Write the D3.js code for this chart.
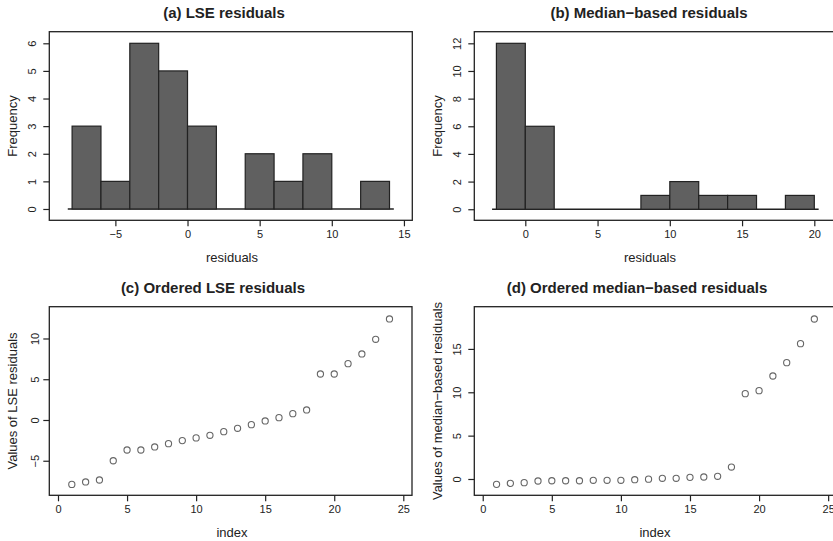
<!DOCTYPE html>
<html>
<head>
<meta charset="utf-8">
<script src="https://cdn.jsdelivr.net/npm/d3@7"></script>
<style>
  body { margin: 0; background: #fff; }
  svg { display: block; font-family: "Liberation Sans", Arial, Helvetica, sans-serif; }
  .tick text { fill: #222; }
</style>
</head>
<body>
<div id="chart"></div>
<script>

// ordered residuals (c) and (d)
var lse_resid = [-7.9, -7.6, -7.36, -5.0, -3.68, -3.68, -3.31, -2.9, -2.53, -2.2, -1.88, -1.43,
                 -1.02, -0.57, -0.12, 0.29, 0.78, 1.23, 5.64, 5.64, 6.91, 8.1, 9.9, 12.4];
var med_resid = [-0.62, -0.5, -0.42, -0.23, -0.2, -0.2, -0.2, -0.15, -0.15, -0.15, -0.08, -0.02,
                 0.08, 0.08, 0.19, 0.23, 0.31, 1.38, 9.84, 10.19, 11.88, 13.42, 15.61, 18.45];

// histogram bins (panels a and b)
var lse_breaks = [-8, -6, -4, -2, 0, 2, 4, 6, 8, 10, 12, 14];
var lse_counts = [3, 1, 6, 5, 3, 0, 2, 1, 2, 0, 1];
var med_breaks = [-2, 0, 2, 4, 6, 8, 10, 12, 14, 16, 18, 20];
var med_counts = [12, 6, 0, 0, 0, 1, 2, 1, 1, 0, 1];

// tick labels
var lse_hist_xticks = [-5, 0, 5, 10, 15];
var lse_hist_yticks = [0, 1, 2, 3, 4, 5, 6];
var med_hist_xticks = [0, 5, 10, 15, 20];
var med_hist_yticks = [0, 2, 4, 6, 8, 10, 12];
var index_ticks = [0, 5, 10, 15, 20, 25];
var lse_yticks = [-5, 0, 5, 10];
var med_yticks = [0, 5, 10, 15];

var W = 833, H = 541;
var bar_fill = "#606060", dark = "#222";

var svg = d3.select("#chart").append("svg")
    .attr("width", W)
    .attr("height", H);

var panels = [
    {title: "(a) LSE residuals", xlab: "residuals", ylab: "Frequency", type: "hist",
     breaks: lse_breaks, counts: lse_counts, xticks: lse_hist_xticks, yticks: lse_hist_yticks,
     box: [49.3, 412.3, 31.7, 220.3], xdom: [-9.58, 15.58], ydom: [-0.41, 6.42],
     titleX: 224, xlabX: 232, ytickOff: 13.5, ylabX: 17},
    {title: "(b) Median\u2212based residuals", xlab: "residuals", ylab: "Frequency", type: "hist",
     breaks: med_breaks, counts: med_counts, xticks: med_hist_xticks, yticks: med_hist_yticks,
     box: [474.3, 837, 31.7, 220.3], xdom: [-3.53, 21.57], ydom: [-0.8, 12.84],
     titleX: 649, xlabX: 650, ytickOff: 13.5, ylabX: 442},
    {title: "(c) Ordered LSE residuals", xlab: "index", ylab: "Values of LSE residuals", type: "points",
     values: lse_resid, xticks: index_ticks, yticks: lse_yticks,
     box: [49.3, 412, 306.7, 495.3], xdom: [-0.63, 25.63], ydom: [-9.24, 13.9],
     titleX: 213, xlabX: 232, ytickOff: 10, ylabX: 17},
    {title: "(d) Ordered median\u2212based residuals", xlab: "index", ylab: "Values of median\u2212based residuals", type: "points",
     values: med_resid, xticks: index_ticks, yticks: med_yticks,
     box: [474.3, 837, 306.7, 495.3], xdom: [-0.61, 25.64], ydom: [-1.88, 19.87],
     titleX: 637, xlabX: 655, ytickOff: 13.5, ylabX: 442}
];

panels.forEach(function (p) {
    var x = d3.scaleLinear().domain(p.xdom).range([p.box[0], p.box[1]]);
    var y = d3.scaleLinear().domain(p.ydom).range([p.box[3], p.box[2]]);
    var g = svg.append("g");

    if (p.type === "hist") {
        var bins = p.counts.map(function (c, i) {
            return {x0: p.breaks[i], x1: p.breaks[i + 1], n: c};
        });
        // baseline
        g.append("line")
            .attr("x1", x(p.breaks[0] - 0.3))
            .attr("x2", x(p.breaks[p.breaks.length - 1] + 0.3))
            .attr("y1", y(0)).attr("y2", y(0))
            .style("stroke", dark)
            .style("stroke-width", 1.3);
        g.selectAll("rect.bar")
            .data(bins)
            .enter()
            .append("rect")
            .attr("class", "bar")
            .attr("x", function (d) { return x(d.x0); })
            .attr("width", function (d) { return x(d.x1) - x(d.x0); })
            .attr("y", function (d) { return y(d.n); })
            .attr("height", function (d) { return y(0) - y(d.n); })
            .style("fill", bar_fill)
            .style("stroke", dark)
            .style("stroke-width", 1.2);
    } else {
        g.selectAll("circle.pt")
            .data(p.values)
            .enter()
            .append("circle")
            .attr("class", "pt")
            .attr("cx", function (d, i) { return x(i + 1); })
            .attr("cy", function (d) { return y(d); })
            .attr("r", 3.1)
            .style("fill", "none")
            .style("stroke", "#666")
            .style("stroke-width", 1.1);
    }

    // frame
    g.append("rect")
        .attr("x", p.box[0]).attr("y", p.box[2])
        .attr("width", p.box[1] - p.box[0])
        .attr("height", p.box[3] - p.box[2])
        .style("fill", "none")
        .style("stroke", dark)
        .style("stroke-width", 1.3);

    var fmt = function (d) { return d < 0 ? "\u2212" + Math.abs(d) : "" + d; };

    var xa = g.append("g")
        .attr("transform", "translate(0," + p.box[3] + ")")
        .call(d3.axisBottom(x).tickValues(p.xticks).tickSize(6).tickPadding(4).tickFormat(fmt));
    xa.select(".domain").remove();
    xa.selectAll("line").style("stroke", dark).style("stroke-width", 1.2);
    xa.selectAll("text").style("font-size", "11px");

    var ya = g.append("g")
        .attr("transform", "translate(" + p.box[0] + ",0)")
        .call(d3.axisLeft(y).tickValues(p.yticks).tickSize(6).tickFormat(fmt));
    ya.select(".domain").remove();
    ya.selectAll("line").style("stroke", dark).style("stroke-width", 1.2);
    ya.selectAll("text")
        .attr("x", 0)
        .attr("y", -p.ytickOff)
        .attr("dy", 0)
        .attr("transform", "rotate(-90)")
        .attr("text-anchor", "middle")
        .style("font-size", "11px");

    var mid_y = (p.box[2] + p.box[3]) / 2;

    g.append("text")
        .attr("x", p.titleX)
        .attr("y", p.box[2] - 14)
        .attr("text-anchor", "middle")
        .style("font-weight", "bold")
        .style("font-size", "15px")
        .style("fill", dark)
        .text(p.title);

    g.append("text")
        .attr("x", p.xlabX)
        .attr("y", p.box[3] + 42)
        .attr("text-anchor", "middle")
        .style("font-size", "13px")
        .style("fill", dark)
        .text(p.xlab);

    g.append("text")
        .attr("transform", "translate(" + p.ylabX + "," + mid_y + ") rotate(-90)")
        .attr("text-anchor", "middle")
        .style("font-size", "13px")
        .style("fill", dark)
        .text(p.ylab);
});

</script>
</body>
</html>
